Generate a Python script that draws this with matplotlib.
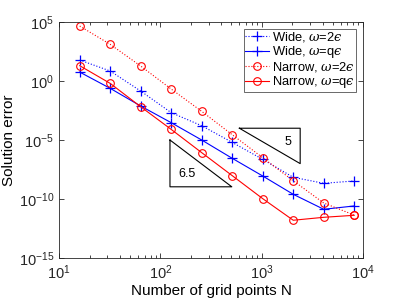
import numpy as np
import matplotlib
matplotlib.use("Agg")
import matplotlib.pyplot as plt
from matplotlib.ticker import LogLocator, NullFormatter, FixedLocator

plt.rcParams['font.family'] = ['Liberation Sans', 'DejaVu Sans']
plt.rcParams['mathtext.fontset'] = 'dejavuserif'

N = [16, 32, 64, 128, 256, 512, 1024, 2048, 4096, 8192]
wide_2eps_log = [1.78, 0.85, -0.85, -2.68, -3.79, -5.2, -6.64, -8.16, -8.67, -8.47]
wide_qeps_log = [0.76, -0.62, -2.12, -3.53, -5.0, -6.55, -8.05, -9.6, -10.87, -10.59]
narrow_2eps_log = [4.66, 3.11, 1.27, -0.68, -2.57, -4.55, -6.5, -8.45, -10.34, -11.36]
narrow_qeps_log = [1.3, -0.2, -2.18, -4.1, -6.07, -8.02, -9.97, -11.8, -11.55, -11.38]

series_labels = ['Wide, $\\omega$=2$\u03f5$', 'Wide, $\\omega$=q$\u03f5$',
                 'Narrow, $\\omega$=2$\u03f5$', 'Narrow, $\\omega$=q$\u03f5$']

# slope triangles: (x_left, x_right, y_top, y_bottom) in log10 units
tri5 = (2.78, 3.38, -4.0, -7.0)
tri65 = (2.095, 2.705, -5.0, -8.965)

fig = plt.figure(figsize=(4.02, 3.02), dpi=100)
ax = fig.add_axes([0.1468, 0.1457, 0.9030 - 0.1468, 0.927 - 0.1457])

lw = 0.8
ax.loglog(N, 10.0 ** np.array(wide_2eps_log), ':', color='blue', marker='+', ms=7, mew=0.9, lw=lw, label=series_labels[0])
ax.loglog(N, 10.0 ** np.array(wide_qeps_log), '-', color='blue', marker='+', ms=7, mew=0.9, lw=lw, label=series_labels[1])
ax.loglog(N, 10.0 ** np.array(narrow_2eps_log), ':', color='red', marker='o', ms=5.5, mfc='none', mew=0.8, lw=lw, label=series_labels[2])
ax.loglog(N, 10.0 ** np.array(narrow_qeps_log), '-', color='red', marker='o', ms=5.5, mfc='none', mew=0.8, lw=lw, label=series_labels[3])

# triangle "5": top horizontal, right vertical
xl, xr, yt, yb = tri5
ax.plot(10.0 ** np.array([xl, xr, xr, xl]), 10.0 ** np.array([yt, yt, yb, yt]), color='black', lw=0.8)
ax.text(10 ** (xr - 0.12), 10 ** (yt - 1.14), '5', fontsize=9, ha='center', va='center')
# triangle "6.5": left vertical, bottom horizontal
xl, xr, yt, yb = tri65
ax.plot(10.0 ** np.array([xl, xl, xr, xl]), 10.0 ** np.array([yt, yb, yb, yt]), color='black', lw=0.8)
ax.text(10 ** (xl + 0.165), 10 ** (yb + 1.08), '6.5', fontsize=9, ha='center', va='center')

ax.set_xlim(10, 1e4)
ax.set_ylim(1e-15, 1e5)
ax.yaxis.set_major_locator(FixedLocator([1e-15, 1e-10, 1e-5, 1e0, 1e5]))
ax.yaxis.set_minor_locator(FixedLocator([]))
ax.xaxis.set_minor_locator(LogLocator(base=10, subs=np.arange(2, 10)))
ax.xaxis.set_minor_formatter(NullFormatter())

ax.tick_params(which='both', direction='in', top=True, right=True, labelsize=10.5, width=0.6, colors='#262626')
ax.tick_params(which='major', length=3.5)
ax.tick_params(which='minor', length=2)
ax.tick_params(axis='x', pad=4)
for s in ax.spines.values():
    s.set_linewidth(0.6)
    s.set_color('#262626')

ax.set_xlabel('Number of grid points N', fontsize=11, labelpad=1)
ax.set_ylabel('Solution error', fontsize=11, labelpad=2)

leg = ax.legend(loc='upper right', fontsize=9.3, frameon=True, fancybox=False, edgecolor='#262626',
                borderpad=0.1, labelspacing=0.0, handlelength=1.8, handletextpad=0.25,
                borderaxespad=0.55)
leg.get_frame().set_linewidth(0.6)

fig.savefig('out.png', dpi=100)
